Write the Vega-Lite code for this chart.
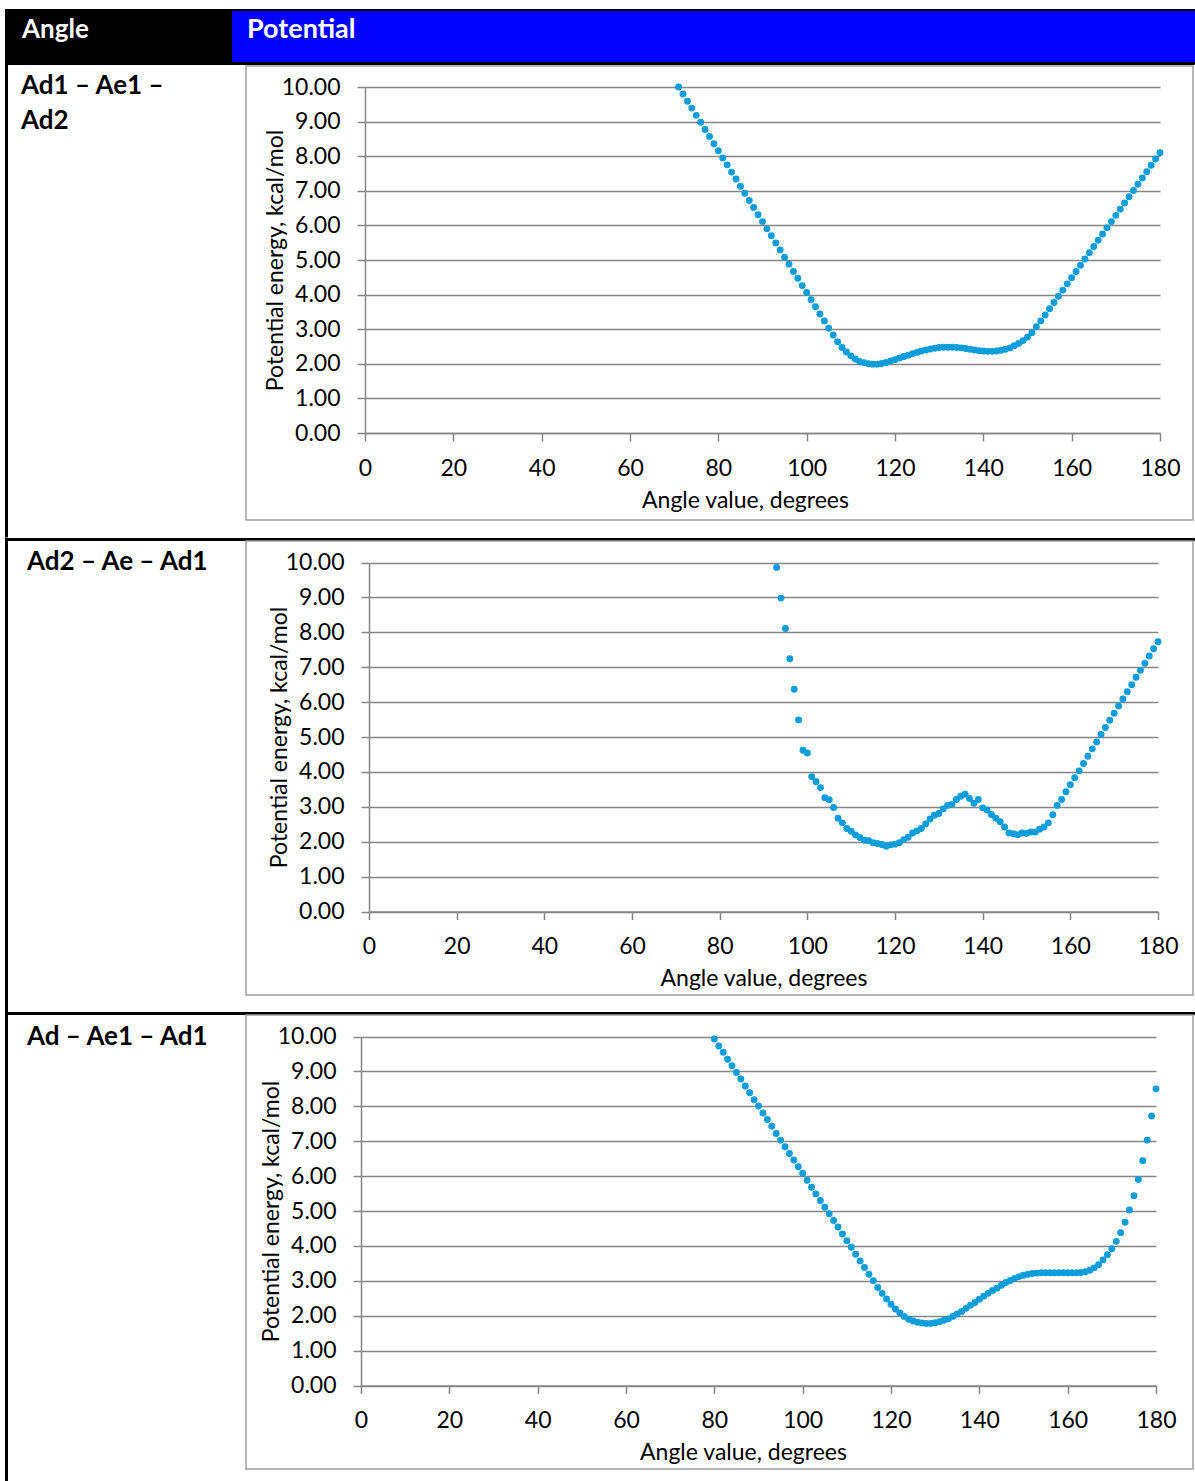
{
  "$schema": "https://vega.github.io/schema/vega-lite/v6.json",
  "padding": {"left": 5, "top": 9, "right": 0, "bottom": 0},
  "background": "white",
  "columns": 4,
  "align": "each",
  "bounds": "flush",
  "spacing": 0,
  "datasets": {
    "c1": [
      {"angle":71,"energy":10.00},{"angle":72,"energy":9.80},{"angle":73,"energy":9.59},{"angle":74,"energy":9.39},{"angle":75,"energy":9.18},{"angle":76,"energy":8.98},{"angle":77,"energy":8.77},{"angle":78,"energy":8.57},{"angle":79,"energy":8.36},{"angle":80,"energy":8.16},
      {"angle":81,"energy":7.95},{"angle":82,"energy":7.75},{"angle":83,"energy":7.54},{"angle":84,"energy":7.34},{"angle":85,"energy":7.13},{"angle":86,"energy":6.93},{"angle":87,"energy":6.72},{"angle":88,"energy":6.52},{"angle":89,"energy":6.31},{"angle":90,"energy":6.11},
      {"angle":91,"energy":5.90},{"angle":92,"energy":5.70},{"angle":93,"energy":5.49},{"angle":94,"energy":5.29},{"angle":95,"energy":5.08},{"angle":96,"energy":4.88},{"angle":97,"energy":4.67},{"angle":98,"energy":4.47},{"angle":99,"energy":4.26},{"angle":100,"energy":4.06},
      {"angle":101,"energy":3.85},{"angle":102,"energy":3.65},{"angle":103,"energy":3.44},{"angle":104,"energy":3.24},{"angle":105,"energy":3.03},{"angle":106,"energy":2.83},{"angle":107,"energy":2.64},{"angle":108,"energy":2.47},{"angle":109,"energy":2.34},{"angle":110,"energy":2.23},
      {"angle":111,"energy":2.14},{"angle":112,"energy":2.07},{"angle":113,"energy":2.03},{"angle":114,"energy":2.00},{"angle":115,"energy":1.99},{"angle":116,"energy":1.99},{"angle":117,"energy":2.01},{"angle":118,"energy":2.04},{"angle":119,"energy":2.08},{"angle":120,"energy":2.12},
      {"angle":121,"energy":2.17},{"angle":122,"energy":2.21},{"angle":123,"energy":2.25},{"angle":124,"energy":2.29},{"angle":125,"energy":2.33},{"angle":126,"energy":2.37},{"angle":127,"energy":2.40},{"angle":128,"energy":2.43},{"angle":129,"energy":2.45},{"angle":130,"energy":2.47},
      {"angle":131,"energy":2.48},{"angle":132,"energy":2.48},{"angle":133,"energy":2.48},{"angle":134,"energy":2.47},{"angle":135,"energy":2.46},{"angle":136,"energy":2.44},{"angle":137,"energy":2.42},{"angle":138,"energy":2.40},{"angle":139,"energy":2.38},{"angle":140,"energy":2.37},
      {"angle":141,"energy":2.36},{"angle":142,"energy":2.36},{"angle":143,"energy":2.37},{"angle":144,"energy":2.39},{"angle":145,"energy":2.42},{"angle":146,"energy":2.46},{"angle":147,"energy":2.52},{"angle":148,"energy":2.59},{"angle":149,"energy":2.67},{"angle":150,"energy":2.77},
      {"angle":151,"energy":2.90},{"angle":152,"energy":3.07},{"angle":153,"energy":3.24},{"angle":154,"energy":3.41},{"angle":155,"energy":3.59},{"angle":156,"energy":3.77},{"angle":157,"energy":3.95},{"angle":158,"energy":4.13},{"angle":159,"energy":4.31},{"angle":160,"energy":4.49},
      {"angle":161,"energy":4.67},{"angle":162,"energy":4.85},{"angle":163,"energy":5.03},{"angle":164,"energy":5.21},{"angle":165,"energy":5.39},{"angle":166,"energy":5.57},{"angle":167,"energy":5.75},{"angle":168,"energy":5.93},{"angle":169,"energy":6.11},{"angle":170,"energy":6.29},
      {"angle":171,"energy":6.47},{"angle":172,"energy":6.65},{"angle":173,"energy":6.83},{"angle":174,"energy":7.01},{"angle":175,"energy":7.19},{"angle":176,"energy":7.37},{"angle":177,"energy":7.55},{"angle":178,"energy":7.74},{"angle":179,"energy":7.92},{"angle":180,"energy":8.10}
    ],
    "c2": [
      {"angle":93,"energy":9.86},{"angle":94,"energy":8.98},{"angle":95,"energy":8.11},{"angle":96,"energy":7.24},{"angle":97,"energy":6.37},{"angle":98,"energy":5.49},{"angle":99,"energy":4.62},{"angle":100,"energy":4.54},
      {"angle":101,"energy":3.86},{"angle":102,"energy":3.72},{"angle":103,"energy":3.55},{"angle":104,"energy":3.26},{"angle":105,"energy":3.20},{"angle":106,"energy":2.98},{"angle":107,"energy":2.67},{"angle":108,"energy":2.54},{"angle":109,"energy":2.38},{"angle":110,"energy":2.30},
      {"angle":111,"energy":2.19},{"angle":112,"energy":2.12},{"angle":113,"energy":2.04},{"angle":114,"energy":2.03},{"angle":115,"energy":1.97},{"angle":116,"energy":1.95},{"angle":117,"energy":1.92},{"angle":118,"energy":1.87},{"angle":119,"energy":1.91},{"angle":120,"energy":1.93},
      {"angle":121,"energy":1.97},{"angle":122,"energy":2.06},{"angle":123,"energy":2.13},{"angle":124,"energy":2.25},{"angle":125,"energy":2.31},{"angle":126,"energy":2.38},{"angle":127,"energy":2.51},{"angle":128,"energy":2.65},{"angle":129,"energy":2.76},{"angle":130,"energy":2.81},
      {"angle":131,"energy":2.94},{"angle":132,"energy":3.04},{"angle":133,"energy":3.07},{"angle":134,"energy":3.21},{"angle":135,"energy":3.30},{"angle":136,"energy":3.36},{"angle":137,"energy":3.24},{"angle":138,"energy":3.10},{"angle":139,"energy":3.21},{"angle":140,"energy":2.97},
      {"angle":141,"energy":2.91},{"angle":142,"energy":2.78},{"angle":143,"energy":2.67},{"angle":144,"energy":2.57},{"angle":145,"energy":2.42},{"angle":146,"energy":2.25},{"angle":147,"energy":2.23},{"angle":148,"energy":2.20},{"angle":149,"energy":2.25},{"angle":150,"energy":2.24},
      {"angle":151,"energy":2.28},{"angle":152,"energy":2.28},{"angle":153,"energy":2.36},{"angle":154,"energy":2.42},{"angle":155,"energy":2.54},{"angle":156,"energy":2.77},{"angle":157,"energy":3.04},{"angle":158,"energy":3.21},{"angle":159,"energy":3.43},{"angle":160,"energy":3.63},
      {"angle":161,"energy":3.83},{"angle":162,"energy":4.03},{"angle":163,"energy":4.24},{"angle":164,"energy":4.45},{"angle":165,"energy":4.66},{"angle":166,"energy":4.86},{"angle":167,"energy":5.07},{"angle":168,"energy":5.27},{"angle":169,"energy":5.48},{"angle":170,"energy":5.68},
      {"angle":171,"energy":5.89},{"angle":172,"energy":6.09},{"angle":173,"energy":6.30},{"angle":174,"energy":6.50},{"angle":175,"energy":6.71},{"angle":176,"energy":6.91},{"angle":177,"energy":7.11},{"angle":178,"energy":7.32},{"angle":179,"energy":7.53},{"angle":180,"energy":7.73}
    ],
    "c3": [
      {"angle":80,"energy":9.93},{"angle":81,"energy":9.73},{"angle":82,"energy":9.55},{"angle":83,"energy":9.35},{"angle":84,"energy":9.16},{"angle":85,"energy":8.97},{"angle":86,"energy":8.78},{"angle":87,"energy":8.58},{"angle":88,"energy":8.39},{"angle":89,"energy":8.19},{"angle":90,"energy":8.01},
      {"angle":91,"energy":7.81},{"angle":92,"energy":7.62},{"angle":93,"energy":7.43},{"angle":94,"energy":7.22},{"angle":95,"energy":7.03},{"angle":96,"energy":6.84},{"angle":97,"energy":6.65},{"angle":98,"energy":6.46},{"angle":99,"energy":6.27},{"angle":100,"energy":6.08},
      {"angle":101,"energy":5.88},{"angle":102,"energy":5.68},{"angle":103,"energy":5.49},{"angle":104,"energy":5.30},{"angle":105,"energy":5.11},{"angle":106,"energy":4.92},{"angle":107,"energy":4.73},{"angle":108,"energy":4.54},{"angle":109,"energy":4.34},{"angle":110,"energy":4.15},
      {"angle":111,"energy":3.96},{"angle":112,"energy":3.76},{"angle":113,"energy":3.57},{"angle":114,"energy":3.38},{"angle":115,"energy":3.19},{"angle":116,"energy":3.00},{"angle":117,"energy":2.81},{"angle":118,"energy":2.64},{"angle":119,"energy":2.48},{"angle":120,"energy":2.33},
      {"angle":121,"energy":2.19},{"angle":122,"energy":2.08},{"angle":123,"energy":1.98},{"angle":124,"energy":1.90},{"angle":125,"energy":1.85},{"angle":126,"energy":1.81},{"angle":127,"energy":1.79},{"angle":128,"energy":1.78},{"angle":129,"energy":1.78},{"angle":130,"energy":1.80},
      {"angle":131,"energy":1.83},{"angle":132,"energy":1.87},{"angle":133,"energy":1.91},{"angle":134,"energy":1.98},{"angle":135,"energy":2.05},{"angle":136,"energy":2.12},{"angle":137,"energy":2.21},{"angle":138,"energy":2.30},{"angle":139,"energy":2.38},{"angle":140,"energy":2.47},
      {"angle":141,"energy":2.56},{"angle":142,"energy":2.64},{"angle":143,"energy":2.72},{"angle":144,"energy":2.79},{"angle":145,"energy":2.87},{"angle":146,"energy":2.95},{"angle":147,"energy":3.01},{"angle":148,"energy":3.07},{"angle":149,"energy":3.12},{"angle":150,"energy":3.16},
      {"angle":151,"energy":3.19},{"angle":152,"energy":3.21},{"angle":153,"energy":3.22},{"angle":154,"energy":3.23},{"angle":155,"energy":3.23},{"angle":156,"energy":3.23},{"angle":157,"energy":3.23},{"angle":158,"energy":3.23},{"angle":159,"energy":3.23},{"angle":160,"energy":3.23},
      {"angle":161,"energy":3.23},{"angle":162,"energy":3.23},{"angle":163,"energy":3.24},{"angle":164,"energy":3.26},{"angle":165,"energy":3.30},{"angle":166,"energy":3.37},{"angle":167,"energy":3.46},{"angle":168,"energy":3.60},{"angle":169,"energy":3.75},{"angle":170,"energy":3.92},
      {"angle":171,"energy":4.13},{"angle":172,"energy":4.38},{"angle":173,"energy":4.68},{"angle":174,"energy":5.03},{"angle":175,"energy":5.44},{"angle":176,"energy":5.90},{"angle":177,"energy":6.44},{"angle":178,"energy":7.03},{"angle":179,"energy":7.72},{"angle":180,"energy":8.50}
    ]
  },
  "concat": [
    {"width": 3, "height": 2, "data": {"values": []}, "mark": "point", "view": {"fill": "#000000", "stroke": null}},
    {"width": 224, "height": 2, "data": {"values": []}, "mark": "point", "view": {"fill": "#000000", "stroke": null}},
    {"width": 14, "height": 2, "data": {"values": []}, "mark": "point", "view": {"fill": "#000000", "stroke": null}},
    {"width": 949, "height": 2, "data": {"values": []}, "mark": "point", "view": {"fill": "#000000", "stroke": null}},

    {"width": 3, "height": 51, "data": {"values": []}, "mark": "point", "view": {"fill": "#000000", "stroke": null}},
    {"width": 224, "height": 51,
     "data": {"values": [{"label": "Angle"}]},
     "mark": {"type": "text", "align": "left", "baseline": "alphabetic", "dx": 14, "dy": 1.5, "color": "#ffffff", "font": "Lato", "fontSize": 26, "fontWeight": "bold"},
     "encoding": {
       "text": {"field": "label"},
       "x": {"datum": 0, "type": "quantitative", "scale": {"domain": [0, 1]}, "axis": null},
       "y": {"datum": 0.5, "type": "quantitative", "scale": {"domain": [0, 1]}, "axis": null}
     },
     "view": {"fill": "#000000", "stroke": null}},
    {"width": 14, "height": 51, "data": {"values": []}, "mark": "point", "view": {"fill": "#0000ff", "stroke": null}},
    {"width": 949, "height": 51,
     "data": {"values": [{"label": "Potential"}]},
     "mark": {"type": "text", "align": "left", "baseline": "alphabetic", "dx": 1, "dy": 1.5, "color": "#ffffff", "font": "Lato", "fontSize": 27, "fontWeight": "bold"},
     "encoding": {
       "text": {"field": "label"},
       "x": {"datum": 0, "type": "quantitative", "scale": {"domain": [0, 1]}, "axis": null},
       "y": {"datum": 0.5, "type": "quantitative", "scale": {"domain": [0, 1]}, "axis": null}
     },
     "view": {"fill": "#0000ff", "stroke": null}},

    {"width": 3, "height": 3, "data": {"values": []}, "mark": "point", "view": {"fill": "#000000", "stroke": null}},
    {"width": 224, "height": 3, "data": {"values": []}, "mark": "point", "view": {"fill": "#000000", "stroke": null}},
    {"width": 14, "height": 3, "data": {"values": []}, "mark": "point", "view": {"fill": "#000000", "stroke": null}},
    {"width": 949, "height": 3, "data": {"values": []}, "mark": "point", "view": {"fill": "#000000", "stroke": null}},

    {"width": 3, "height": 1, "data": {"values": []}, "mark": "point", "view": {"fill": "#000000", "stroke": null}},
    {"width": 224, "height": 1, "data": {"values": []}, "mark": "point", "view": {"stroke": null},
     "title": {"text": ["Ad1 – Ae1 –", "Ad2"], "orient": "bottom", "anchor": "start", "frame": "group", "baseline": "alphabetic", "offset": 28, "dx": 13, "lineHeight": 35, "color": "#000000", "font": "Lato", "fontSize": 26, "fontWeight": "bold"}},
    {"width": 14, "height": 1, "data": {"values": []}, "mark": "point", "view": {"stroke": null}},
    {"width": 949, "height": 1, "data": {"values": []}, "mark": "point", "view": {"stroke": null}},

    {"width": 3, "height": 471.5, "data": {"values": []}, "mark": "point", "view": {"fill": "#000000", "stroke": null}},
    {"width": 224, "height": 471.5, "data": {"values": []}, "mark": "point", "view": {"stroke": null}},
    {"width": 14, "height": 471.5, "data": {"values": []}, "mark": "point", "view": {"stroke": null}},
    {
      "width": 947, "height": 454,
      "data": {"name": "c1"},
      "mark": {"type": "circle", "size": 48, "color": "#0D9DDB", "opacity": 1},
      "view": {"stroke": "#a0a0a0", "strokeWidth": 1.5},
      "encoding": {
        "x": {"field": "angle", "type": "quantitative",
              "scale": {"domain": [0, 180], "range": [119, 914], "nice": false, "zero": false},
              "axis": {"values": [0,20,40,60,80,100,120,140,160,180], "offset": -87, "grid": false, "title": "Angle value, degrees", "titleX": 499, "labelPadding": 16, "titlePadding": 9}},
        "y": {"field": "energy", "type": "quantitative",
              "scale": {"domain": [0, 10], "range": [367, 21], "nice": false},
              "axis": {"values": [0,1,2,3,4,5,6,7,8,9,10], "format": ".2f", "offset": -119, "grid": true, "title": "Potential energy, kcal/mol", "labelPadding": 17, "titlePadding": -6}}
      }
    },

    {"width": 3, "height": 3, "data": {"values": []}, "mark": "point", "view": {"fill": "#000000", "stroke": null}},
    {"width": 224, "height": 3, "data": {"values": []}, "mark": "point", "view": {"fill": "#000000", "stroke": null},
     "title": {"text": "Ad2 – Ae – Ad1", "orient": "bottom", "anchor": "start", "frame": "group", "baseline": "alphabetic", "offset": 28.5, "dx": 19, "color": "#000000", "font": "Lato", "fontSize": 26, "fontWeight": "bold"}},
    {"width": 14, "height": 3, "data": {"values": []}, "mark": "point", "view": {"fill": "#000000", "stroke": null}},
    {"width": 949, "height": 3, "data": {"values": []}, "mark": "point", "view": {"fill": "#000000", "stroke": null}},

    {"width": 3, "height": 471, "data": {"values": []}, "mark": "point", "view": {"fill": "#000000", "stroke": null}},
    {"width": 224, "height": 471, "data": {"values": []}, "mark": "point", "view": {"stroke": null}},
    {"width": 14, "height": 471, "data": {"values": []}, "mark": "point", "view": {"stroke": null}},
    {
      "width": 947, "height": 454,
      "data": {"name": "c2"},
      "mark": {"type": "circle", "size": 48, "color": "#0D9DDB", "opacity": 1},
      "view": {"stroke": "#a0a0a0", "strokeWidth": 1.5},
      "encoding": {
        "x": {"field": "angle", "type": "quantitative",
              "scale": {"domain": [0, 180], "range": [123, 912], "nice": false, "zero": false},
              "axis": {"values": [0,20,40,60,80,100,120,140,160,180], "offset": -83.5, "grid": false, "title": "Angle value, degrees", "labelPadding": 16, "titlePadding": 9}},
        "y": {"field": "energy", "type": "quantitative",
              "scale": {"domain": [0, 10], "range": [370.5, 21.5], "nice": false},
              "axis": {"values": [0,1,2,3,4,5,6,7,8,9,10], "format": ".2f", "offset": -123, "grid": true, "title": "Potential energy, kcal/mol", "labelPadding": 17, "titlePadding": -6}}
      }
    },

    {"width": 3, "height": 3, "data": {"values": []}, "mark": "point", "view": {"fill": "#000000", "stroke": null}},
    {"width": 224, "height": 3, "data": {"values": []}, "mark": "point", "view": {"fill": "#000000", "stroke": null},
     "title": {"text": "Ad – Ae1 – Ad1", "orient": "bottom", "anchor": "start", "frame": "group", "baseline": "alphabetic", "offset": 29.5, "dx": 19, "color": "#000000", "font": "Lato", "fontSize": 26, "fontWeight": "bold"}},
    {"width": 14, "height": 3, "data": {"values": []}, "mark": "point", "view": {"fill": "#000000", "stroke": null}},
    {"width": 949, "height": 3, "data": {"values": []}, "mark": "point", "view": {"fill": "#000000", "stroke": null}},

    {"width": 3, "height": 466.5, "data": {"values": []}, "mark": "point", "view": {"fill": "#000000", "stroke": null}},
    {"width": 224, "height": 466.5, "data": {"values": []}, "mark": "point", "view": {"stroke": null}},
    {"width": 14, "height": 466.5, "data": {"values": []}, "mark": "point", "view": {"stroke": null}},
    {
      "width": 947, "height": 454,
      "data": {"name": "c3"},
      "mark": {"type": "circle", "size": 48, "color": "#0D9DDB", "opacity": 1},
      "view": {"stroke": "#a0a0a0", "strokeWidth": 1.5},
      "encoding": {
        "x": {"field": "angle", "type": "quantitative",
              "scale": {"domain": [0, 180], "range": [115, 910], "nice": false, "zero": false},
              "axis": {"values": [0,20,40,60,80,100,120,140,160,180], "offset": -83.5, "grid": false, "title": "Angle value, degrees", "titleX": 497, "labelPadding": 16, "titlePadding": 9}},
        "y": {"field": "energy", "type": "quantitative",
              "scale": {"domain": [0, 10], "range": [370.5, 21.5], "nice": false},
              "axis": {"values": [0,1,2,3,4,5,6,7,8,9,10], "format": ".2f", "offset": -115, "grid": true, "title": "Potential energy, kcal/mol", "labelPadding": 17, "titlePadding": -6}}
      }
    }
  ],
  "config": {
    "view": {"stroke": null},
    "font": "Lato",
    "concat": {"spacing": 0},
    "axis": {
      "labelFont": "Lato", "labelFontSize": 23, "labelColor": "#000000",
      "titleFont": "Lato", "titleFontSize": 23, "titleFontWeight": "normal", "titleColor": "#000000",
      "domainColor": "#868686", "domainWidth": 1.5,
      "tickColor": "#868686", "tickWidth": 1.5, "tickSize": 8,
      "gridColor": "#868686", "gridWidth": 1.5,
      "labelFlush": false, "labelOverlap": false
    }
  }
}
